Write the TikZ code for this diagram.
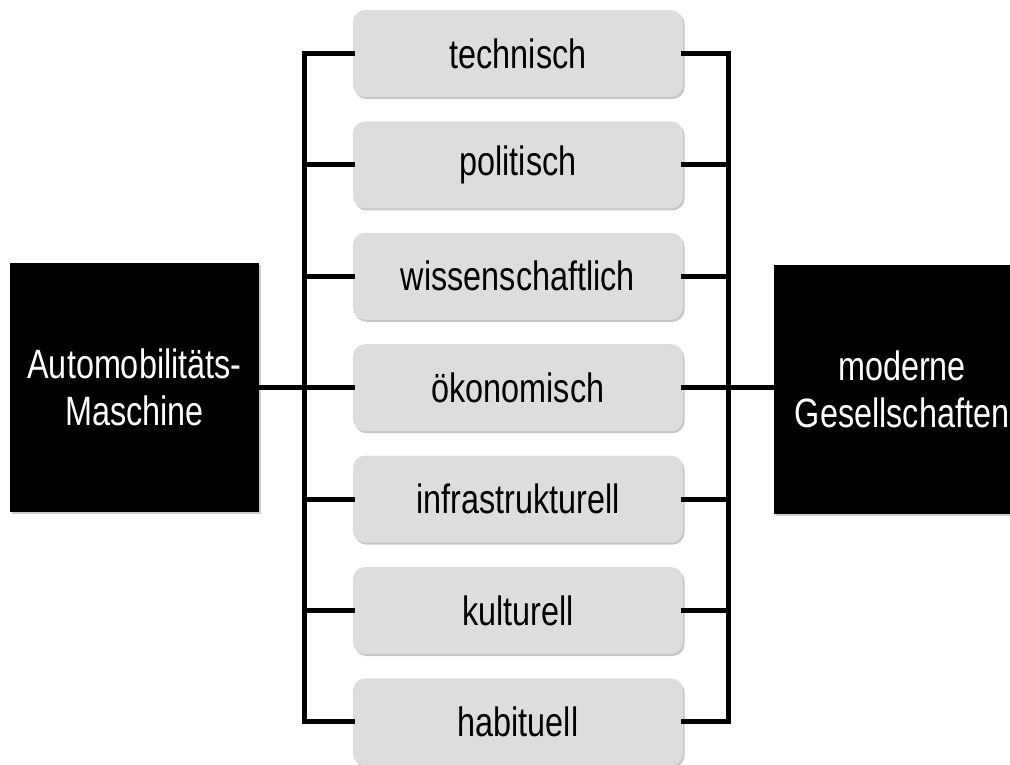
\documentclass[tikz,border=0pt]{standalone}
\usepackage{fontspec}
\setmainfont{Liberation Sans}[FakeStretch=0.79]
\usetikzlibrary{shadows}
\definecolor{boxgray}{RGB}{221,221,221}
\tikzset{
  cat/.style={draw=none, fill=boxgray, rounded corners=12pt, minimum width=330pt, minimum height=87pt,
    inner sep=0pt, font=\fontsize{41}{47}\selectfont,
    drop shadow={shadow xshift=1.5pt, shadow yshift=-2pt, opacity=0.45, fill=gray}},
  blk/.style={fill=black, text=white, inner sep=0pt, align=center, font=\fontsize{41}{47}\selectfont,
    drop shadow={shadow xshift=1.5pt, shadow yshift=-1.5pt, opacity=0.4, fill=gray}},
  conn/.style={line width=5pt, line join=miter, line cap=rect}
}
\begin{document}
\begin{tikzpicture}[x=1pt,y=-1pt]
\useasboundingbox (0,0) rectangle (1010,764);
% left and right black boxes
\node[blk, minimum width=249pt, minimum height=249pt] (L) at (134.5,387.5) {Automobilitäts-\\Maschine};
\path[fill=black, drop shadow={shadow xshift=1.5pt, shadow yshift=-1.5pt, opacity=0.4, fill=gray}] (774,265) rectangle (1030,514);
\node[inner sep=0pt, text=white, align=center, font=\fontsize{41}{47}\selectfont] (Rt) at (902,389.5) {moderne\\Gesellschaften};
\coordinate (R) at (774,389);
% category boxes
\foreach \i/\t in {1/technisch,2/politisch,3/wissenschaftlich,4/ökonomisch,5/infrastrukturell,6/kulturell,7/habituell}{
  \node[cat] (b\i) at (518,{53.5+111.4*(\i-1)}) {\t};
}
% left bus
\draw[conn] (b1.west) -- ++(-48,0) |- (b7.west);
\foreach \i in {2,3,5,6}{ \draw[conn] (b\i.west) -- ++(-48,0); }
\draw[conn] (L.east) -- (L.east -| b4.west);
% right bus
\draw[conn] (b1.east) -- ++(45,0) |- (b7.east);
\foreach \i in {2,3,5,6}{ \draw[conn] (b\i.east) -- ++(45,0); }
\draw[conn] (b4.east) -- (b4.east -| R);
\end{tikzpicture}
\end{document}
